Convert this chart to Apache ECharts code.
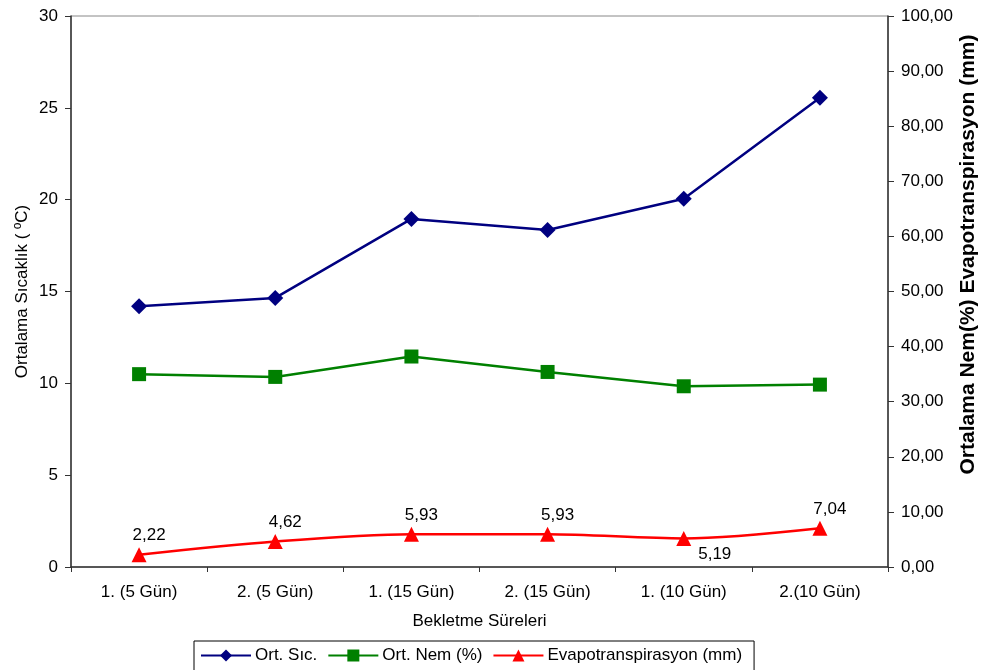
<!DOCTYPE html>
<html>
<head>
<meta charset="utf-8">
<script src="https://cdn.jsdelivr.net/npm/echarts@6/dist/echarts.min.js"></script>
<style>
  html, body { margin: 0; padding: 0; background: #fff; }
  #chart { width: 983px; height: 670px; }
</style>
</head>
<body>
<div id="chart"></div>
<script>
var categories = ["1. (5 Gün)", "2. (5 Gün)", "1. (15 Gün)", "2. (15 Gün)", "1. (10 Gün)", "2.(10 Gün)"];
var sicaklik = [14.2, 14.65, 18.95, 18.35, 20.05, 25.55];
var nem = [35.0, 34.5, 38.2, 35.4, 32.8, 33.1];
var evapo = [2.22, 4.62, 5.93, 5.93, 5.19, 7.04];

var font = "Liberation Sans, Arial, sans-serif";
function comma(v, d) { return v.toFixed(d).replace(".", ","); }

var chart = echarts.init(document.getElementById("chart"));

// 5,19 sits below and to the right of its point, like the original
var evapoData = evapo.map(function (v, i) {
    var item = { value: v };
    if (i === 4) {
        item.label = { position: "bottom", offset: [31, -5] };
    }
    return item;
});

chart.setOption({
    animation: false,
    textStyle: { fontFamily: font },
    grid: {
        left: 71, right: 95, top: 16, bottom: 103,
        outerBoundsMode: "none",
        show: true, borderColor: "#888", borderWidth: 1
    },
    legend: {
        left: 194, top: 641,
        itemWidth: 50, itemHeight: 15, itemGap: 10,
        padding: [6, 12, 8, 6],
        borderColor: "#000", borderWidth: 1,
        textStyle: { fontFamily: font, fontSize: 17, color: "#000", padding: [0, 0, 0, -1] },
        data: ["Ort. Sıc.", "Ort. Nem (%)", "Evapotranspirasyon (mm)"]
    },
    xAxis: {
        type: "category",
        data: categories,
        boundaryGap: true,
        name: "Bekletme Süreleri",
        nameLocation: "middle",
        nameGap: 46,
        nameTextStyle: { fontFamily: font, fontSize: 17, color: "#000" },
        axisLine: { lineStyle: { color: "#333", width: 1.5 } },
        axisTick: { show: true, alignWithLabel: false, length: 5, lineStyle: { color: "#333" } },
        axisLabel: { fontFamily: font, fontSize: 17, color: "#000", margin: 17 }
    },
    yAxis: [{
        type: "value",
        min: 0, max: 30, interval: 5,
        name: "Ortalama Sıcaklık ( ºC)",
        nameLocation: "middle",
        nameGap: 40,
        nameMoveOverlap: false,
        nameTextStyle: { fontFamily: font, fontSize: 17, color: "#000" },
        axisLine: { show: true, lineStyle: { color: "#333", width: 1.5 } },
        axisTick: { show: true, length: 6, lineStyle: { color: "#333" } },
        axisLabel: { fontFamily: font, fontSize: 17, color: "#000", margin: 13 },
        splitLine: { show: false }
    }, {
        type: "value",
        position: "right",
        min: 0, max: 100, interval: 10,
        name: "Ortalama Nem(%) Evapotranspirasyon (mm)",
        nameLocation: "middle",
        nameGap: 70,
        nameMoveOverlap: false,
        nameTextStyle: {
            fontFamily: font, fontSize: 21, fontWeight: "bold", color: "#000",
            padding: [0, 0, 0, 74]
        },
        axisLine: { show: true, lineStyle: { color: "#333", width: 1.5 } },
        axisTick: { show: true, length: 6, lineStyle: { color: "#333" } },
        axisLabel: {
            fontFamily: font, fontSize: 17, color: "#000", margin: 13,
            formatter: function (v) { return comma(v, 2); }
        },
        splitLine: { show: false }
    }],
    series: [{
        name: "Ort. Sıc.",
        type: "line",
        yAxisIndex: 0,
        data: sicaklik,
        symbol: "diamond",
        symbolSize: 16,
        lineStyle: { color: "#000080", width: 2.5 },
        itemStyle: { color: "#000080" }
    }, {
        name: "Ort. Nem (%)",
        type: "line",
        yAxisIndex: 1,
        data: nem,
        symbol: "rect",
        symbolSize: 14,
        lineStyle: { color: "#008000", width: 2.5 },
        itemStyle: { color: "#008000" }
    }, {
        name: "Evapotranspirasyon (mm)",
        type: "line",
        yAxisIndex: 1,
        data: evapoData,
        smooth: 0.3,
        symbol: "triangle",
        symbolSize: 15,
        lineStyle: { color: "#FF0000", width: 2.5 },
        itemStyle: { color: "#FF0000" },
        label: {
            show: true,
            position: "top",
            offset: [10, 2],
            fontFamily: font, fontSize: 17, color: "#000",
            formatter: function (p) { return comma(p.value, 2); }
        }
    }]
});
</script>
</body>
</html>
